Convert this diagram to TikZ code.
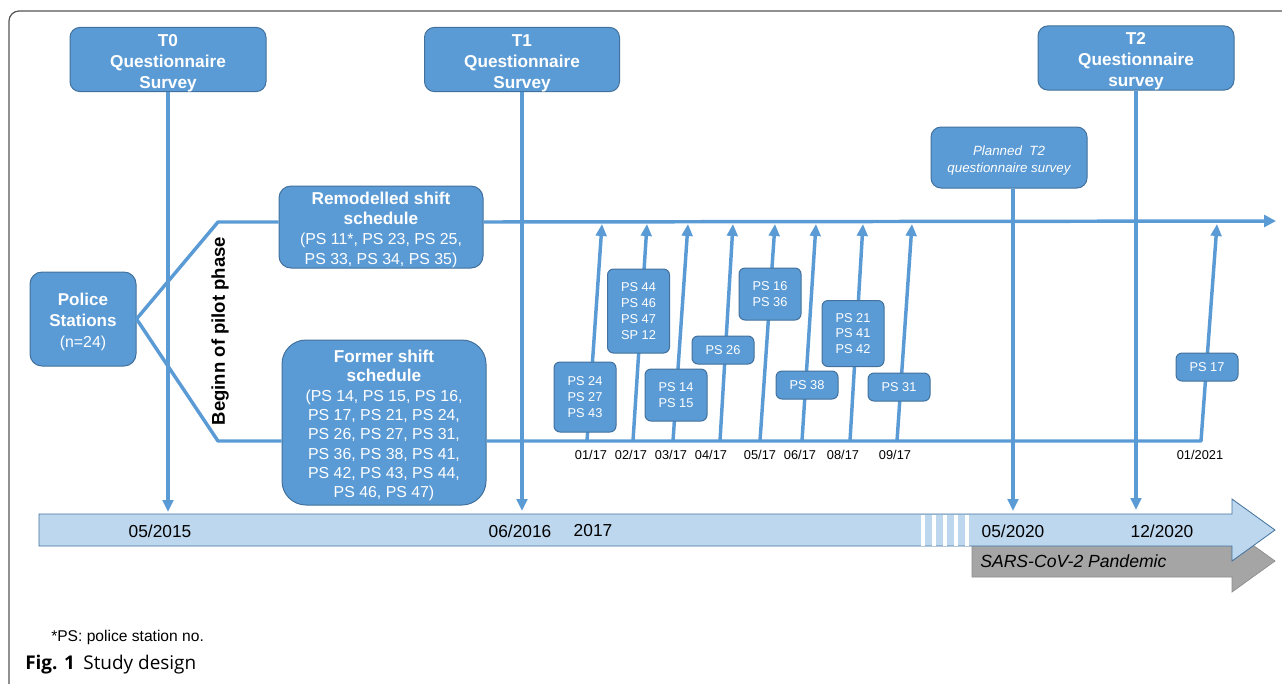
\documentclass[tikz,border=0pt]{standalone}
\usepackage{fontspec}
\setmainfont{Liberation Sans}
\newfontfamily\capfont{Open Sans}
\usetikzlibrary{arrows.meta}
\definecolor{boxfill}{HTML}{5B9BD5}
\definecolor{boxline}{HTML}{41719C}
\definecolor{barfill}{HTML}{BDD7EE}
\definecolor{linec}{HTML}{5B9BD5}
\definecolor{pand}{HTML}{A5A5A5}
\definecolor{framec}{HTML}{555555}
\newcommand{\dropA}{\rule{0pt}{14pt}}
\newcommand{\dropB}{\rule{0pt}{12pt}}
\begin{document}
\begin{tikzpicture}[x=0.75pt,y=-0.75pt,
  box/.style={draw=boxline, line width=0.75pt, fill=boxfill, text=white, align=center, inner sep=0pt, rounded corners=7.5pt},
  tbox/.style={box, minimum width=147pt, minimum height=45.75pt, font=\fontsize{12.9}{15.75}\selectfont\bfseries},
  sbox/.style={box, rounded corners=4.5pt, minimum width=46.5pt, font=\fontsize{9.6}{11.8}\selectfont},
  conn/.style={draw=linec, line width=2.6pt},
  arr/.style={conn, -{Triangle[width=8pt,length=9pt]}},
  datelbl/.style={font=\fontsize{9.6}{11}\selectfont, inner sep=0pt},
  barlbl/.style={font=\fontsize{13}{15}\selectfont, inner sep=0pt},
]
\useasboundingbox (0,0) rectangle (1282,683);
% frame
\draw[framec, line width=0.9pt, rounded corners=7.5pt] (9,690) -- (9,11) -- (1290,11);

% timeline bars
\draw[fill=pand, draw=pand!85!black, line width=0.5pt] (972,545) -- (1232,545) -- (1232,530) -- (1275,561) -- (1232,592) -- (1232,577) -- (972,577) -- cycle;
\draw[fill=barfill, draw=boxline, line width=0.6pt] (39,514) -- (1232,514) -- (1232,499) -- (1275,530) -- (1232,561) -- (1232,546) -- (39,546) -- cycle;
\foreach \x in {921,932,943,954,965} \fill[white] (\x,514.5) rectangle ++(4,31);

\node[barlbl] (d2015) at (160,531) {05/2015};
\node[barlbl] (d2016) at (520,531) {06/2016};
\node[barlbl] (d2017) at (593,531) {2017};
\node[barlbl] (d2020a) at (1013,531) {05/2020};
\node[barlbl] (d2020b) at (1162,531) {12/2020};
\node[anchor=west, inner sep=0pt, font=\fontsize{13.2}{15}\selectfont\itshape] (pandemic) at (980,561) {SARS-CoV-2 Pandemic};

% survey boxes
\node[tbox] (t0) at (168,59.5) {\dropA T0\\Questionnaire\\Survey};
\node[tbox, minimum width=146.25pt] (t1) at (522,59.5) {\dropA T1\\Questionnaire\\Survey};
\node[tbox, minimum height=46.5pt] (t2) at (1136,58) {\dropA T2\\Questionnaire\\survey};
\node[box, minimum width=117pt, minimum height=45.75pt, font=\fontsize{10}{12.75}\selectfont\itshape] (pl) at (1009,157.5) {\dropB Planned\ \ T2\\questionnaire survey};

\coordinate (a0) at (168,512);
\coordinate (a1) at (522,511);
\coordinate (a2) at (1136,510);
\coordinate (a3) at (1013,511);
\draw[arr] (t0) -- (a0);
\draw[arr] (t1) -- (a1);
\draw[arr] (t2) -- (a2);
\draw[arr] (a3 |- pl.south) -- (a3);

% police stations and branches
\node[box, rounded corners=9pt, minimum width=79.5pt, minimum height=70.5pt, font=\fontsize{11.9}{15.75}\selectfont] (pol) at (83,319) {{\fontsize{12.8}{15.75}\selectfont\bfseries\dropA Police}\\{\fontsize{12.8}{15.75}\selectfont\bfseries Stations}\\(n=24)};
\node[box, rounded corners=9pt, minimum width=153pt, minimum height=61.5pt, font=\fontsize{11.9}{15}\selectfont] (rem) at (381,227) {{\fontsize{12.9}{15}\selectfont\bfseries\dropA Remodelled shift}\\{\fontsize{12.9}{15}\selectfont\bfseries schedule}\\(PS 11*, PS 23, PS 25,\\PS 33, PS 34, PS 35)};
\node[box, rounded corners=18pt, minimum width=153pt, minimum height=123.75pt, font=\fontsize{11.9}{14.5}\selectfont] (fmr) at (384,422.5) {{\fontsize{12.9}{14.5}\selectfont\bfseries\dropA Former shift}\\{\fontsize{12.9}{14.5}\selectfont\bfseries schedule}\\(PS 14, PS 15, PS 16,\\PS 17, PS 21, PS 24,\\PS 26, PS 27, PS 31,\\PS 36, PS 38, PS 41,\\PS 42, PS 43, PS 44,\\PS 46, PS 47)};

\coordinate (j1) at (218,222);
\coordinate (j2) at (218,441);
\coordinate (tend) at (1276,221);
\coordinate (b9) at (1201,441);
\coordinate (t9) at (1217,224);
\draw[conn, line join=round] (pol.east) -- (j1) -- (j1 -| rem.west);
\draw[conn, line join=round] (pol.east) -- (j2) -- (j2 -| fmr.west);
\draw[conn, -{Triangle[width=9pt,length=9pt]}] (j1 -| rem.east) -- (tend);
\draw[arr, line join=round] (j2 -| fmr.east) -- (b9) -- (t9);

\node[rotate=90, inner sep=0pt, font=\fontsize{13.9}{15}\selectfont\bfseries] (pilot) at (220,331) {Beginn of pilot phase};

% monthly transitions
\foreach \i/\xb/\xt in {1/587/602,2/633/647,3/673/688,4/720/733,5/760/775,6/802/816,7/850/863,8/897/912}{
  \coordinate (b\i) at (\xb,441);
  \coordinate (t\i) at (\xt,224);
  \draw[arr] (b\i) -- (t\i);
}

\node[sbox, minimum height=52.5pt] (s1) at (585,397) {PS 24\\PS 27\\PS 43};
\node[sbox, minimum height=63pt] (s2) at (638.5,311) {PS 44\\PS 46\\PS 47\\SP 12};
\node[sbox, minimum height=39pt] (s3) at (676,395) {PS 14\\PS 15};
\node[sbox, minimum height=21pt] (s4) at (723,350) {PS 26};
\node[sbox, minimum height=39pt] (s5) at (770,294) {PS 16\\PS 36};
\node[sbox, minimum height=21pt] (s6) at (807,385) {PS 38};
\node[sbox, minimum height=49.5pt] (s7) at (853,333.5) {PS 21\\PS 41\\PS 42};
\node[sbox, minimum height=21pt] (s8) at (899,387) {PS 31};
\node[sbox, minimum height=21pt] (s9) at (1207,367) {PS 17};

\node[datelbl] (m1) at (591,455) {01/17};
\node[datelbl] (m2) at (631,455) {02/17};
\node[datelbl] (m3) at (671,455) {03/17};
\node[datelbl] (m4) at (711,455) {04/17};
\node[datelbl] (m5) at (760,455) {05/17};
\node[datelbl] (m6) at (800,455) {06/17};
\node[datelbl] (m7) at (843,455) {08/17};
\node[datelbl] (m8) at (895,455) {09/17};
\node[datelbl] (m9) at (1200,455) {01/2021};

% footnote and caption
\node[anchor=west, inner sep=0pt, font=\fontsize{11.7}{13}\selectfont] (fn) at (51,637) {*PS: police station no.};
\node[anchor=west, inner sep=0pt, font=\capfont\fontsize{14.2}{16}\selectfont] (cap) at (25,665) {\textbf{Fig. 1}\hspace{0.45em}Study design};
\end{tikzpicture}
\end{document}
